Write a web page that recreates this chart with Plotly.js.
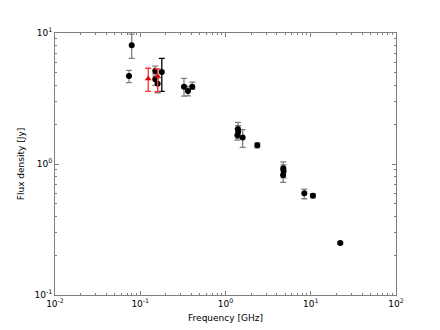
<!DOCTYPE html>
<html>
<head>
<meta charset="utf-8">
<script src="https://cdn.plot.ly/plotly-3.0.1.min.js"></script>
<style>
  html, body { margin: 0; padding: 0; background: #fff; }
  #plot { width: 440px; height: 330px; }
</style>
</head>
<body>
<div id="plot"></div>
<script>
// black points, grey error bars
const freqBlack = [0.0794, 0.0738, 0.150, 0.150, 0.160, 0.326, 0.363, 0.408, 1.40, 1.41, 1.38, 1.59, 2.36, 4.76, 4.80, 4.74, 8.4, 10.6, 22.2];
const fluxBlack = [8.05, 4.70, 5.13, 4.43, 4.10, 3.89, 3.61, 3.89, 1.85, 1.76, 1.66, 1.59, 1.39, 0.927, 0.885, 0.824, 0.597, 0.573, 0.249];
const errUpBlack = [1.75, 0.49, 0.45, 0.45, 0.45, 0.62, 0.3, 0.32, 0.23, 0.2, 0.2, 0.24, 0.06, 0.11, 0.1, 0.08, 0.047, 0.02, 0.005];
const errLoBlack = [1.65, 0.52, 0.45, 0.45, 0.60, 0.59, 0.3, 0.18, 0.2, 0.2, 0.14, 0.25, 0.06, 0.1, 0.1, 0.1, 0.054, 0.02, 0.005];

// black point with black error bar
const freqDark = [0.179];
const fluxDark = [5.04];
const errUpDark = [1.37];
const errLoDark = [1.45];

// red triangles
const freqRed = [0.124, 0.160];
const fluxRed = [4.48, 4.67];
const errUpRed = [0.90, 0.64];
const errLoRed = [0.89, 1.10];

const xTickVals = [0.01, 0.1, 1, 10, 100];
const xTickText = ['10<sup>-2</sup>', '10<sup>-1</sup>', '10<sup>0</sup>', '10<sup>1</sup>', '10<sup>2</sup>'];
const yTickVals = [0.1, 1, 10];
const yTickText = ['10<sup>-1</sup>', '10<sup>0</sup>', '10<sup>1</sup>'];

function minorTicks(lo, hi) {
  const out = [];
  for (let d = lo; d < hi; d++) {
    for (let m = 2; m <= 9; m++) out.push(m * Math.pow(10, d));
  }
  return out;
}

const traces = [
  {
    x: freqBlack, y: fluxBlack, mode: 'markers', type: 'scatter',
    marker: { color: 'black', size: 6, symbol: 'circle' },
    error_y: { type: 'data', symmetric: false, array: errUpBlack, arrayminus: errLoBlack,
               color: '#808080', thickness: 1.3, width: 3 }
  },
  {
    x: freqDark, y: fluxDark, mode: 'markers', type: 'scatter',
    marker: { color: 'black', size: 6, symbol: 'circle' },
    error_y: { type: 'data', symmetric: false, array: errUpDark, arrayminus: errLoDark,
               color: 'black', thickness: 1.3, width: 3 }
  },
  {
    x: freqRed, y: fluxRed, mode: 'markers', type: 'scatter',
    marker: { color: '#e00000', size: 6, symbol: 'triangle-up' },
    error_y: { type: 'data', symmetric: false, array: errUpRed, arrayminus: errLoRed,
               color: '#ff3030', thickness: 1.3, width: 3 }
  }
];

const axisStyle = {
  type: 'log',
  showgrid: false,
  zeroline: false,
  showline: true,
  linecolor: '#7f7f7f',
  linewidth: 1,
  mirror: 'allticks',
  ticks: 'inside',
  ticklen: 4,
  tickcolor: '#7f7f7f',
  tickmode: 'array',
  tickfont: { family: 'DejaVu Sans', size: 9, color: 'black' }
};

const layout = {
  width: 440,
  height: 330,
  margin: { l: 55, r: 44, t: 33, b: 35 },
  paper_bgcolor: 'white',
  plot_bgcolor: 'white',
  showlegend: false,
  xaxis: Object.assign({}, axisStyle, {
    range: [-2, 2],
    tickvals: xTickVals,
    ticktext: xTickText,
    minor: { tickmode: 'array', tickvals: minorTicks(-2, 2), ticks: 'inside', ticklen: 2, tickcolor: '#7f7f7f' },
    title: { text: 'Frequency [GHz]', font: { family: 'DejaVu Sans', size: 9, color: 'black' }, standoff: 6 }
  }),
  yaxis: Object.assign({}, axisStyle, {
    range: [-1, 1],
    tickvals: yTickVals,
    ticktext: yTickText,
    minor: { tickmode: 'array', tickvals: minorTicks(-1, 1), ticks: 'inside', ticklen: 2, tickcolor: '#7f7f7f' },
    title: { text: 'Flux density [Jy]', font: { family: 'DejaVu Sans', size: 9, color: 'black' }, standoff: 8 }
  })
};

Plotly.newPlot('plot', traces, layout, { displayModeBar: false, staticPlot: true });
</script>
</body>
</html>
